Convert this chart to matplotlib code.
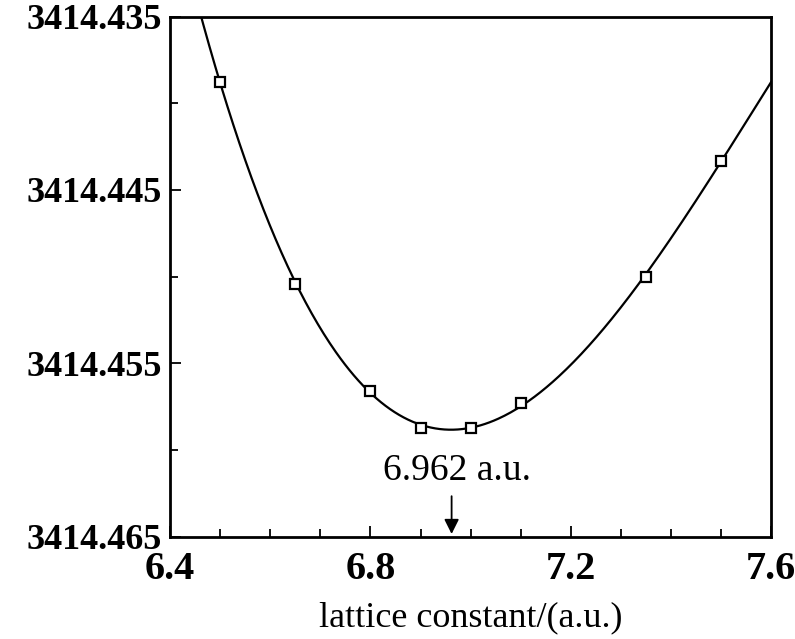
import numpy as np
import matplotlib
matplotlib.use('Agg')
import matplotlib.pyplot as plt
from matplotlib.ticker import MultipleLocator

# lattice constant (a.u.) and total energy (sign dropped as on the axis)
lattice = [6.50, 6.65, 6.80, 6.90, 7.00, 7.10, 7.35, 7.50]
energy = [3414.4388, 3414.4504, 3414.4566, 3414.4587, 3414.4587, 3414.4573, 3414.4500, 3414.4433]

yticks = [3414.435, 3414.445, 3414.455, 3414.465]
ytick_labels = ['3414.435', '3414.445', '3414.455', '3414.465']
xticks = [6.4, 6.8, 7.2, 7.6]
xtick_labels = ['6.4', '6.8', '7.2', '7.6']

a_min = 6.962
a_min_label = '6.962 a.u.'

plt.rcParams['font.family'] = ['Liberation Serif', 'DejaVu Serif']

fig = plt.figure(figsize=(7.95, 6.39), dpi=100)
ax = fig.add_axes([0.214, 0.160, 0.756, 0.814])

# fitted curve through the points
coef = np.polyfit(lattice, energy, 3)
xs = np.linspace(6.4, 7.6, 400)
ax.plot(xs, np.polyval(coef, xs), color='black', lw=1.6)
ax.plot(lattice, energy, ls='none', marker='s', ms=7, mfc='white', mec='black', mew=1.6)

ax.set_xlim(6.4, 7.6)
ax.set_ylim(3414.465, 3414.435)

ax.set_xticks(xticks)
ax.set_xticklabels(xtick_labels, fontsize=29, fontweight='bold')
ax.set_yticks(yticks)
ax.set_yticklabels(ytick_labels, fontsize=26, fontweight='bold')
ax.xaxis.set_minor_locator(MultipleLocator(0.1))
ax.yaxis.set_minor_locator(MultipleLocator(0.005))
ax.tick_params(which='both', direction='in', top=False, right=False, width=1.3)
ax.tick_params(which='major', length=8)
ax.tick_params(which='minor', length=6)
ax.tick_params(axis='y', pad=6)
ax.tick_params(axis='x', pad=10)
for s in ax.spines.values():
    s.set_linewidth(2)

ax.set_xlabel('lattice constant/(a.u.)', fontsize=26, labelpad=10)

# arrow marking the minimum
ax.annotate('', xy=(a_min, 3414.465), xytext=(a_min, 3414.4625),
            arrowprops=dict(arrowstyle='-|>', color='black', lw=1.3, mutation_scale=22))
ax.text(a_min + 0.01, 3414.4612, a_min_label, fontsize=27, ha='center', va='center')

fig.savefig('out.png', dpi=100)
